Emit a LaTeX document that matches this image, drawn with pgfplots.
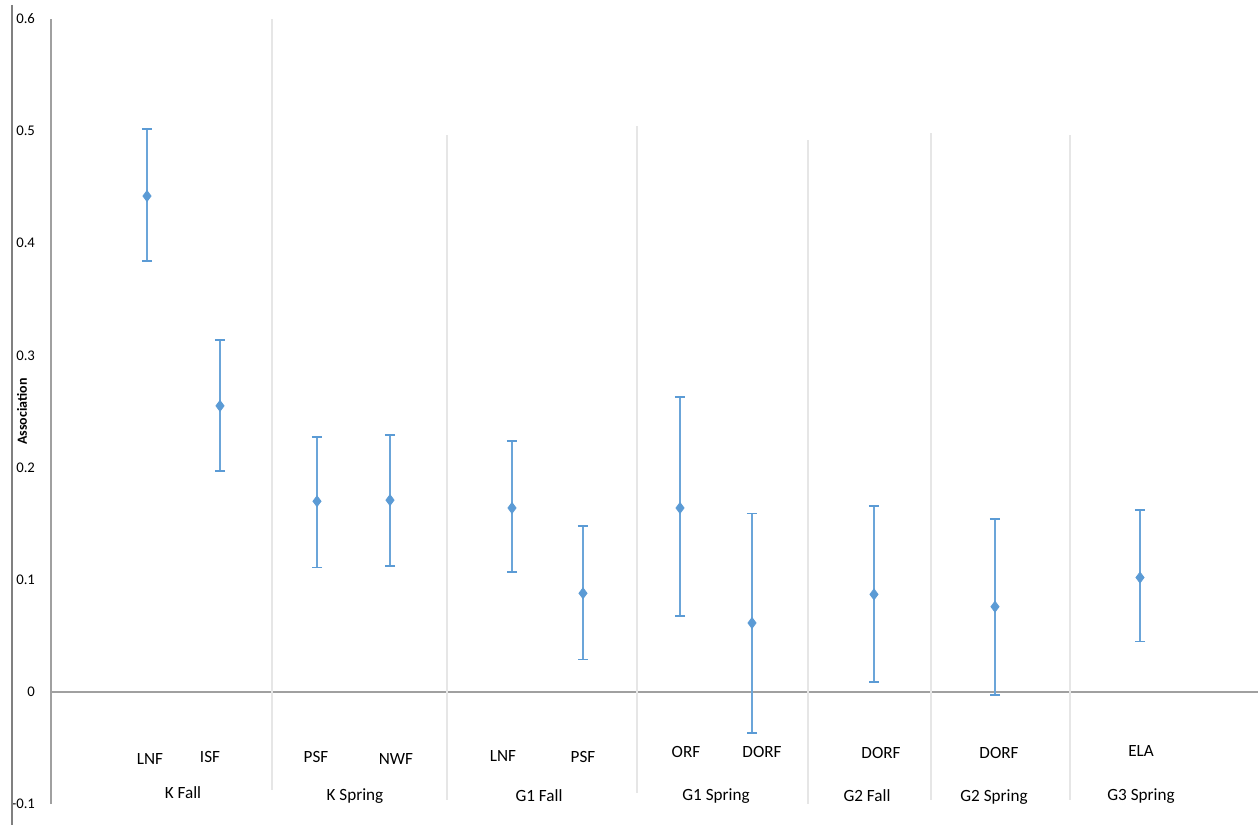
\documentclass[border=0pt]{standalone}
\usepackage{pgfplots}
\pgfplotsset{compat=1.18}
\usepackage{fontspec}
\setmainfont{Carlito}
\definecolor{ser}{HTML}{5B9BD5}
\definecolor{sepc}{HTML}{E6E6E6}
\definecolor{axg}{HTML}{A0A0A0}
\definecolor{outg}{HTML}{808080}
\begin{document}
\begin{tikzpicture}
\begin{axis}[
  scale only axis, width=603.5bp, height=392.7bp,
  xmin=51, xmax=1258, ymin=-0.1, ymax=0.6,
  axis x line*=middle, axis y line*=left,
  axis line style={axg, line width=0.7bp},
  xtick=\empty,
  ytick={-0.1,0,0.1,0.2,0.3,0.4,0.5,0.6},
  yticklabels={-0.1,0,0.1,0.2,0.3,0.4,0.5,0.6},
  major tick length=0pt,
  yticklabel style={font=\fontsize{7.4}{8}\selectfont, xshift=-4.5bp},
  ylabel={Association},
  ylabel style={font=\bfseries\fontsize{7}{8}\selectfont, at={(axis description cs:-0.024,0.5)}, anchor=center},
  clip=false,
]
\addplot[sepc, line width=0.6bp, forget plot] coordinates {(272,0.6) (272,-0.087)};
\addplot[sepc, line width=0.6bp, forget plot] coordinates {(447,0.496) (447,-0.096)};
\addplot[sepc, line width=0.6bp, forget plot] coordinates {(637,0.504) (637,-0.090)};
\addplot[sepc, line width=0.6bp, forget plot] coordinates {(808,0.492) (808,-0.100)};
\addplot[sepc, line width=0.6bp, forget plot] coordinates {(931,0.498) (931,-0.096)};
\addplot[sepc, line width=0.6bp, forget plot] coordinates {(1070,0.496) (1070,-0.096)};

\addplot[ser, only marks, mark=diamond*, mark size=2.7bp,
  error bars/.cd, y dir=both, y explicit,
  error bar style={line width=0.9bp, ser!90!white},
  error mark options={line width=0.9bp, mark size=2.6bp, ser, rotate=90}]
  table[x=x, y=y, y error plus=ep, y error minus=em] {
x     y       ep      em
147   0.442   0.060   0.058
220   0.255   0.059   0.058
317   0.170   0.057   0.059
390   0.171   0.058   0.059
512   0.164   0.060   0.057
583   0.088   0.060   0.059
680   0.164   0.099   0.096
752   0.0615  0.0975  0.098
874   0.087   0.079   0.078
995   0.076   0.078   0.079
1140  0.102   0.060   0.057
};

\begin{scope}[every node/.style={anchor=base, font=\fontsize{8.6}{10}\selectfont, inner sep=0pt}]
\node at (axis cs:150,-0.0642) {LNF};
\node at (axis cs:210,-0.0630) {ISF};
\node at (axis cs:316,-0.0630) {PSF};
\node at (axis cs:396,-0.0642) {NWF};
\node at (axis cs:503,-0.0621) {LNF};
\node at (axis cs:583,-0.0627) {PSF};
\node at (axis cs:686,-0.0582) {ORF};
\node at (axis cs:762,-0.0582) {DORF};
\node at (axis cs:881,-0.0597) {DORF};
\node at (axis cs:999,-0.0597) {DORF};
\node at (axis cs:1141,-0.0577) {ELA};
\node at (axis cs:183,-0.0947) {K Fall};
\node at (axis cs:355,-0.0963) {K Spring};
\node at (axis cs:539,-0.0978) {G1 Fall};
\node at (axis cs:716,-0.0963) {G1 Spring};
\node at (axis cs:867,-0.0980) {G2 Fall};
\node at (axis cs:994,-0.0978) {G2 Spring};
\node at (axis cs:1141,-0.0969) {G3 Spring};
\end{scope}
\end{axis}
\draw[outg, line width=0.7bp] ([shift={(-19.5bp,7bp)}]current axis.north west) -- ([shift={(-19.5bp,-10.5bp)}]current axis.south west);
\pgfresetboundingbox
\path ([shift={(-25.5bp,-10.4bp)}]current axis.south west) rectangle ([shift={(0.5bp,9.4bp)}]current axis.north east);
\end{tikzpicture}
\end{document}
